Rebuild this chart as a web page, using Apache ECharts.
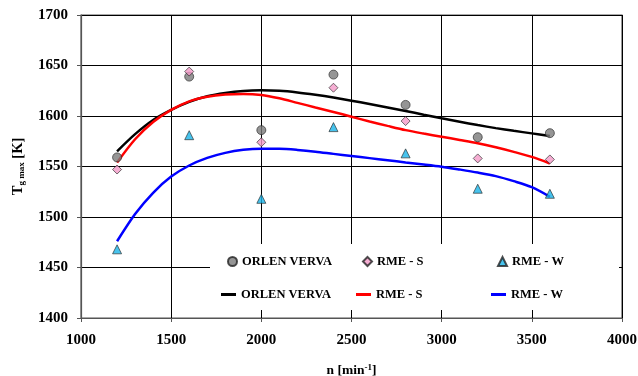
<!DOCTYPE html>
<html><head><meta charset="utf-8">
<script src="https://cdn.jsdelivr.net/npm/echarts@6/dist/echarts.min.js"></script>
<style>html,body{margin:0;padding:0;background:#fff}#c{width:638px;height:376px}</style>
</head><body><div id="c"></div>
<script>
const rpm = [1200, 1600, 2000, 2400, 2800, 3200, 3600];
const orlenPts = [1559, 1639, 1586, 1641, 1611, 1579, 1583];
const rmeSPts = [1547, 1644, 1574, 1628, 1595, 1558, 1557];
const rmeWPts = [1468, 1581, 1518, 1589, 1563, 1528, 1523];

const curveX = [1200, 1300, 1400, 1500, 1600, 1700, 1800, 1900, 2000, 2100, 2200, 2300, 2400, 2500, 2600, 2700, 2800, 2900, 3000, 3100, 3200, 3300, 3400, 3500, 3600];
const orlenCurve = [1565, 1582, 1596, 1606, 1614, 1619.5, 1622.8, 1624.8, 1625.4, 1624.9, 1623.3, 1621, 1618.3, 1615.2, 1611.8, 1608.4, 1605, 1601.3, 1597.7, 1594.3, 1591, 1588, 1585.3, 1582.8, 1580.3];
const rmeSCurve = [1554, 1577, 1594, 1606, 1614.5, 1619, 1621.2, 1621.8, 1620.8, 1617.5, 1613, 1608.5, 1604, 1599.3, 1594.6, 1590.2, 1586, 1582.6, 1579.5, 1576.3, 1573, 1569, 1564.5, 1559.5, 1553];
const rmeWCurve = [1476, 1503, 1524, 1540, 1551, 1558.5, 1563.5, 1566.5, 1567.6, 1567.5, 1566.4, 1564.7, 1562.5, 1560.4, 1558.3, 1556.2, 1554, 1552, 1549.8, 1547, 1544, 1540.5, 1535.5, 1529.5, 1520];

const F = 'Liberation Serif, Times New Roman, serif';
const pair = (xs, ys) => xs.map((x, i) => [x, ys[i]]);
const chart = echarts.init(document.getElementById('c'));

const legendBase = {orient: 'horizontal', itemGap: 0, padding: 0,
  textStyle: {fontFamily: F, fontWeight: 'bold', fontSize: 12.5, color: '#000'},
  formatter: n => n.replace(' trend', '')};
function lg(name, left, top, w, h, icon) {
  return Object.assign({}, legendBase, {left, top, itemWidth: w, itemHeight: h, data: [icon ? {name, icon} : name]});
}
const axisFont = {fontFamily: F, fontWeight: 'bold', fontSize: 15, color: '#000'};

chart.setOption({
  animation: false,
  grid: {left: 81, right: 16, top: 15, bottom: 58, show: true, borderColor: '#555', borderWidth: 1.2,
    containLabel: false, outerBoundsMode: 'none'},
  xAxis: {type: 'value', min: 1000, max: 4000, interval: 500,
    name: '{a|n [min}{s|-1}{a|]}', nameLocation: 'middle', nameGap: 45,
    nameTextStyle: {rich: {a: {fontFamily: F, fontWeight: 'bold', fontSize: 13.5, color: '#000'},
      s: {fontFamily: F, fontWeight: 'bold', fontSize: 9, color: '#000', verticalAlign: 'top', padding: [0, 0, 6, 0]}}},
    axisLine: {onZero: false, lineStyle: {color: '#555', width: 1.2}},
    axisTick: {show: true, length: 4, lineStyle: {color: '#555'}},
    axisLabel: Object.assign({margin: 15, formatter: v => String(v)}, axisFont),
    splitLine: {show: true, lineStyle: {color: '#000', width: 1}}},
  yAxis: {type: 'value', min: 1400, max: 1700, interval: 50,
    name: '{a|T}{b|g max}{a| [K]}', nameLocation: 'middle', nameGap: 55, nameRotate: 90,
    nameTextStyle: {rich: {a: {fontFamily: F, fontWeight: 'bold', fontSize: 14.5, color: '#000'},
      b: {fontFamily: F, fontWeight: 'bold', fontSize: 9, color: '#000', verticalAlign: 'bottom', padding: [6, 0, 0, 0]}}},
    axisLine: {show: true, lineStyle: {color: '#555', width: 1.2}},
    axisTick: {show: true, length: 4, lineStyle: {color: '#555'}},
    axisLabel: Object.assign({margin: 13, formatter: v => String(v)}, axisFont),
    splitLine: {show: true, lineStyle: {color: '#000', width: 1}}},
  graphic: [{type: 'rect', z: 1, shape: {x: 210, y: 244, width: 409, height: 66}, style: {fill: '#fff'}}],
  legend: [
    lg('ORLEN VERVA', 227, 255, 9, 9),
    lg('RME - S', 362, 255, 9, 9),
    lg('RME - W', 497, 255, 9, 9),
    lg('ORLEN VERVA trend', 221, 288, 15, 3, 'rect'),
    lg('RME - S trend', 356, 288, 15, 3, 'rect'),
    lg('RME - W trend', 491, 288, 15, 3, 'rect')
  ],
  series: [
    {name: 'ORLEN VERVA trend', type: 'line', smooth: 0.3, symbol: 'none', z: 3, data: pair(curveX, orlenCurve),
      itemStyle: {color: '#000'}, lineStyle: {color: '#000', width: 2.5}},
    {name: 'RME - S trend', type: 'line', smooth: 0.3, symbol: 'none', z: 3, data: pair(curveX, rmeSCurve),
      itemStyle: {color: '#ff0000'}, lineStyle: {color: '#ff0000', width: 2.5}},
    {name: 'RME - W trend', type: 'line', smooth: 0.3, symbol: 'none', z: 3, data: pair(curveX, rmeWCurve),
      itemStyle: {color: '#0000ff'}, lineStyle: {color: '#0000ff', width: 2.5}},
    {name: 'ORLEN VERVA', type: 'scatter', symbol: 'circle', symbolSize: 9, z: 4, data: pair(rpm, orlenPts),
      itemStyle: {color: '#7a7a7a', borderColor: '#222', borderWidth: 0.8}},
    {name: 'RME - S', type: 'scatter', symbol: 'diamond', symbolSize: 9, z: 4, data: pair(rpm, rmeSPts),
      itemStyle: {color: '#f49ac8', borderColor: '#222', borderWidth: 0.8}},
    {name: 'RME - W', type: 'scatter', symbol: 'triangle', symbolSize: 9, z: 4, data: pair(rpm, rmeWPts),
      itemStyle: {color: '#19b4e8', borderColor: '#222', borderWidth: 0.8}}
  ]
});
</script></body></html>
